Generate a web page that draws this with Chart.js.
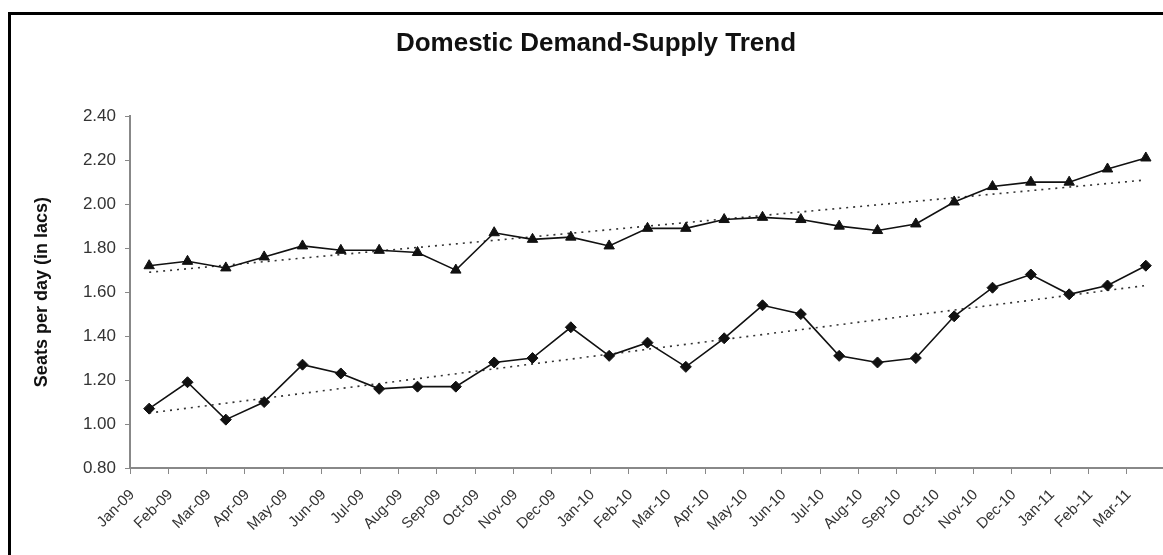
<!DOCTYPE html>
<html>
<head>
<meta charset="utf-8">
<title>Domestic Demand-Supply Trend</title>
<script src="https://cdn.jsdelivr.net/npm/chart.js@4/dist/chart.umd.min.js"></script>
<style>
  html, body { margin: 0; padding: 0; background: #fff; overflow: hidden; }
  #wrap { position: relative; width: 1163px; height: 555px; overflow: hidden; }
  #frame {
    position: absolute; left: 8px; top: 12px; width: 1200px; height: 600px;
    border: 3px solid #000; pointer-events: none; box-sizing: border-box;
  }
</style>
</head>
<body>
<div id="wrap">
  <!-- canvas is a bit wider than the page, the right edge of the plot runs off it -->
  <canvas id="trendChart" width="1172" height="555"></canvas>
  <div id="frame"></div>
</div>
<script>
// Months on the x axis
const months = ['Jan-09', 'Feb-09', 'Mar-09', 'Apr-09', 'May-09', 'Jun-09', 'Jul-09', 'Aug-09', 'Sep-09',
  'Oct-09', 'Nov-09', 'Dec-09', 'Jan-10', 'Feb-10', 'Mar-10', 'Apr-10', 'May-10', 'Jun-10', 'Jul-10',
  'Aug-10', 'Sep-10', 'Oct-10', 'Nov-10', 'Dec-10', 'Jan-11', 'Feb-11', 'Mar-11'];

// Seats per day (in lacs)
const supply = [1.72, 1.74, 1.71, 1.76, 1.81, 1.79, 1.79, 1.78, 1.70, 1.87, 1.84, 1.85, 1.81, 1.89,
  1.89, 1.93, 1.94, 1.93, 1.90, 1.88, 1.91, 2.01, 2.08, 2.10, 2.10, 2.16, 2.21];
const demand = [1.07, 1.19, 1.02, 1.10, 1.27, 1.23, 1.16, 1.17, 1.17, 1.28, 1.30, 1.44, 1.31, 1.37,
  1.26, 1.39, 1.54, 1.50, 1.31, 1.28, 1.30, 1.49, 1.62, 1.68, 1.59, 1.63, 1.72];

// Linear trend lines, start and end values
const supplyTrend = [1.69, 2.11];
const demandTrend = [1.05, 1.63];

// y axis range
const yMin = 0.8;
const yMax = 2.4;
const yStep = 0.2;

// trend only has first and last point, the line spans the gap between them
function trendData(ends) {
  const arr = months.map(() => null);
  arr[0] = ends[0];
  arr[arr.length - 1] = ends[1];
  return arr;
}

const ctx = document.getElementById('trendChart');

const chart = new Chart(ctx, {
  type: 'line',
  data: {
    labels: months,
    datasets: [
      {
        label: 'Supply',
        data: supply,
        borderColor: '#111',
        backgroundColor: '#111',
        borderWidth: 1.6,
        pointStyle: 'triangle',
        pointRadius: 6,
        pointBorderWidth: 1,
        tension: 0
      },
      {
        label: 'Demand',
        data: demand,
        borderColor: '#111',
        backgroundColor: '#111',
        borderWidth: 1.6,
        pointStyle: 'rectRot',
        pointRadius: 5.5,
        pointBorderWidth: 1,
        tension: 0
      },
      {
        label: 'Supply trend',
        data: trendData(supplyTrend),
        borderColor: '#333',
        borderWidth: 1.6,
        borderDash: [2, 5],
        pointRadius: 0,
        spanGaps: true
      },
      {
        label: 'Demand trend',
        data: trendData(demandTrend),
        borderColor: '#333',
        borderWidth: 1.6,
        borderDash: [2, 5],
        pointRadius: 0,
        spanGaps: true
      }
    ]
  },
  options: {
    responsive: false,
    animation: false,
    layout: { padding: { left: 20, right: 0, top: 0, bottom: 0 } },
    plugins: {
      legend: { display: false },
      tooltip: { enabled: false },
      title: {
        display: true,
        text: 'Domestic Demand-Supply Trend',
        color: '#111',
        font: { family: 'Liberation Sans, Arial', size: 26, weight: 'bold' },
        padding: { top: 28, bottom: 57 }
      }
    },
    scales: {
      x: {
        offset: true,
        grid: {
          offset: true,
          drawOnChartArea: false,
          drawTicks: true,
          tickLength: 6,
          color: '#888'
        },
        border: { display: true, color: '#888', width: 2 },
        ticks: {
          autoSkip: false,
          maxRotation: 45,
          minRotation: 45,
          padding: 12,
          labelOffset: -17,
          color: '#333',
          font: { family: 'Liberation Sans, Arial', size: 15 }
        },
        afterFit: function(scale) { scale.height = 87; }
      },
      y: {
        min: yMin,
        max: yMax,
        grid: {
          drawOnChartArea: false,
          drawTicks: true,
          tickLength: 5,
          color: '#888'
        },
        border: { display: true, color: '#888', width: 2 },
        ticks: {
          stepSize: yStep,
          padding: 9,
          color: '#333',
          font: { family: 'Liberation Sans, Arial', size: 17 },
          callback: function(value) { return value.toFixed(2); }
        },
        title: {
          display: true,
          text: 'Seats per day (in lacs)',
          color: '#111',
          font: { family: 'Liberation Sans, Arial', size: 18, weight: 'bold' },
          padding: { top: 11, bottom: 0 }
        },
        afterFit: function(scale) { scale.width = 110; }
      }
    }
  }
});
</script>
</body>
</html>
